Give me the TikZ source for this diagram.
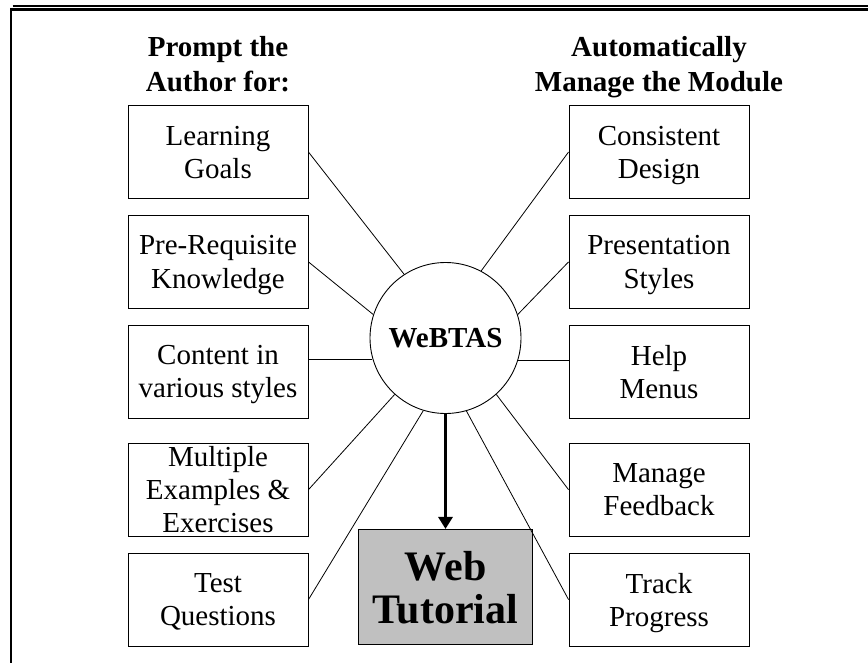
\documentclass[tikz,border=0pt]{standalone}
\usepackage{fontspec}
\setmainfont{Liberation Serif}
\usetikzlibrary{positioning,arrows.meta}
\definecolor{tutgray}{RGB}{192,192,192}
\tikzstyle{line}=[draw, line width=0.8pt]
\tikzstyle{flow}=[draw, line width=3pt, -{Triangle[width=14pt,length=12pt]}]
\tikzstyle{item}=[draw, line width=0.9pt, align=center, inner sep=0pt, text depth=-1.5pt, minimum width=180pt, minimum height=93pt, font=\fontsize{29}{33}\selectfont]
\tikzstyle{heading}=[align=center, inner sep=0pt, text depth=0pt, font=\fontsize{29}{35}\selectfont\bfseries]

\begin{document}
\begin{tikzpicture}[x=1pt,y=-1pt]
    \useasboundingbox (0,0) rectangle (868,663);
    % frame
    \draw[line width=1.3pt] (12.7,6) -- (868,6);
    \draw[line width=2.8pt] (11,663) -- (11,9.5) -- (868,9.5);

    \node[item] (goals) at (218,152) {Learning\\Goals};
    \node[item, below=16pt of goals] (prereq) {Pre-Requisite\\Knowledge};
    \node[item, below=16pt of prereq] (content) {Content in\\various styles};
    \node[item, below=24pt of content] (examples) {Multiple\\Examples \&\\Exercises};
    \node[item, below=16pt of examples] (test) {Test\\Questions};

    \node[item] (design) at (659,152) {Consistent\\Design};
    \node[item, below=16pt of design] (styles) {Presentation\\Styles};
    \node[item, below=16pt of styles] (help) {Help\\Menus};
    \node[item, below=24pt of help] (feedback) {Manage\\Feedback};
    \node[item, below=16pt of feedback] (progress) {Track\\Progress};

    \node[heading, above=13pt of goals] (prompt) {Prompt the\\Author for:};
    \node[heading, above=13pt of design] (manage) {Automatically\\Manage the Module};

    \node[circle, draw, line width=0.9pt, minimum size=151pt, inner sep=0pt, font=\fontsize{29}{33}\selectfont\bfseries] (webtas) at (445.5,338) {WeBTAS};
    \node[draw, line width=1.2pt, fill=tutgray, minimum width=174pt, minimum height=115pt, inner sep=0pt, align=center, text depth=-6pt, font=\fontsize{42}{43}\selectfont\bfseries, below=115pt of webtas] (tutorial) {Web\\Tutorial};

    \path[line] (goals.east) -- (webtas.123);
    \path[line] (prereq.east) -- (webtas.162);
    \path[line] (webtas.196) -- (webtas.196 -| content.east);
    \path[line] (examples.east) -- (webtas.228);
    \path[line] (test.east) -- (webtas.253);
    \path[line] (design.west) -- (webtas.62);
    \path[line] (styles.west) -- (webtas.18);
    \path[line] (webtas.343) -- (webtas.343 -| help.west);
    \path[line] (feedback.west) -- (webtas.312);
    \path[line] (progress.west) -- (webtas.286);
    \path[flow] (webtas.south) -- (tutorial.north);
\end{tikzpicture}
\end{document}
